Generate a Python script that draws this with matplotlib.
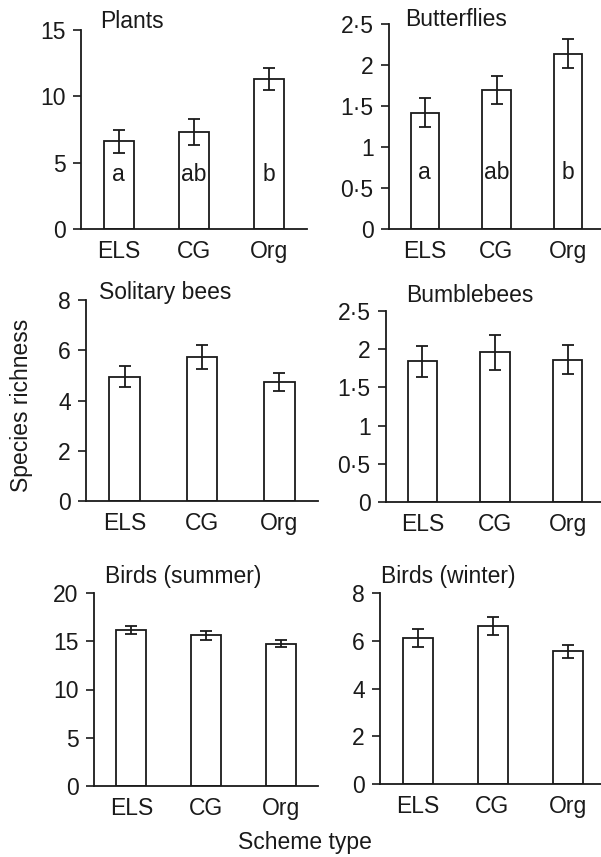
import matplotlib
matplotlib.use("Agg")
import matplotlib.pyplot as plt
import matplotlib.transforms as mtransforms

plt.rcParams['font.family'] = ['Liberation Sans', 'DejaVu Sans']

categories = ["ELS", "CG", "Org"]

titles = ["Plants", "Butterflies", "Solitary bees", "Bumblebees",
          "Birds (summer)", "Birds (winter)"]

plants_mean = [6.6, 7.3, 11.3]
plants_err = [0.85, 1.0, 0.8]
butterflies_mean = [1.42, 1.69, 2.14]
butterflies_err = [0.18, 0.17, 0.18]
solitary_mean = [4.94, 5.73, 4.73]
solitary_err = [0.42, 0.46, 0.35]
bumble_mean = [1.84, 1.96, 1.86]
bumble_err = [0.20, 0.23, 0.19]
birds_summer_mean = [16.2, 15.6, 14.75]
birds_summer_err = [0.40, 0.42, 0.35]
birds_winter_mean = [6.12, 6.63, 5.55]
birds_winter_err = [0.37, 0.37, 0.29]

plants_letters = ["a", "ab", "b"]
butterflies_letters = ["a", "ab", "b"]

yticks_plants = [0, 5, 10, 15]
yticks_butterflies = [0, 0.5, 1, 1.5, 2, 2.5]
yticks_solitary = [0, 2, 4, 6, 8]
yticks_bumble = [0, 0.5, 1, 1.5, 2, 2.5]
yticks_bsummer = [0, 5, 10, 15, 20]
yticks_bwinter = [0, 2, 4, 6, 8]

means = [plants_mean, butterflies_mean, solitary_mean, bumble_mean,
         birds_summer_mean, birds_winter_mean]
errs = [plants_err, butterflies_err, solitary_err, bumble_err,
        birds_summer_err, birds_winter_err]
yticks = [yticks_plants, yticks_butterflies, yticks_solitary, yticks_bumble,
          yticks_bsummer, yticks_bwinter]
letters = [plants_letters, butterflies_letters, None, None, None, None]

W, H = 601, 857
fig = plt.figure(figsize=(W / 100, H / 100), dpi=100)

# axes boxes in pixels: left, right, top, bottom
boxes = [
    (81, 307, 30, 229),
    (389, 604, 24, 229),
    (86, 318, 300, 501),
    (386, 604, 311, 502),
    (94, 318, 593, 786),
    (380, 605, 593, 784),
]
# title positions (x px, baseline y px)
title_pos = [(100, 28), (405, 26), (99, 299), (406, 302), (105, 583), (381, 583)]

FS = 16.5
INK = "#1a1a1a"


def fmt(v):
    if float(v).is_integer():
        return str(int(v))
    return ("%g" % v).replace(".", "\u00b7")


for i in range(6):
    l, r, t, b = boxes[i]
    ax = fig.add_axes([l / W, 1 - b / H, (r - l) / W, (b - t) / H])
    x = list(range(len(categories)))
    ax.bar(x, means[i], width=0.4, color="white", edgecolor=INK,
           linewidth=1.3, zorder=2)
    ax.errorbar(x, means[i], yerr=errs[i], fmt="none", ecolor=INK,
                elinewidth=1.3, capsize=4.5, capthick=1.3, zorder=3)
    ax.set_xlim(-0.5, 2.5)
    ax.set_ylim(0, yticks[i][-1])
    ax.set_yticks(yticks[i])
    ax.set_yticklabels([fmt(v) for v in yticks[i]], fontsize=FS, color=INK)
    ax.set_xticks(x)
    ax.set_xticklabels(categories, fontsize=FS, color=INK)
    ax.tick_params(axis="x", length=0, pad=8)
    ax.tick_params(axis="y", length=6, width=1.2, direction="out", pad=5,
                   colors=INK)
    for s in ["top", "right"]:
        ax.spines[s].set_visible(False)
    for s in ["left", "bottom"]:
        ax.spines[s].set_linewidth(1.3)
        ax.spines[s].set_color(INK)
    ax.spines["bottom"].set_zorder(4)
    if letters[i] is not None:
        trans = mtransforms.blended_transform_factory(ax.transData, ax.transAxes)
        for xi, lab in zip(x, letters[i]):
            ax.text(xi, 0.275, lab, transform=trans, ha="center", va="center",
                    fontsize=FS, color=INK)
    tx, ty = title_pos[i]
    fig.text(tx / W, 1 - ty / H, titles[i], fontsize=FS, ha="left",
             va="baseline", color=INK)

fig.text(22 / W, 1 - 405 / H, "Species richness", rotation=90, ha="center",
         va="center", fontsize=FS, color=INK)
fig.text(305 / W, 1 - 843 / H, "Scheme type", ha="center", va="center",
         fontsize=FS, color=INK)

fig.savefig("out.png", dpi=100)
